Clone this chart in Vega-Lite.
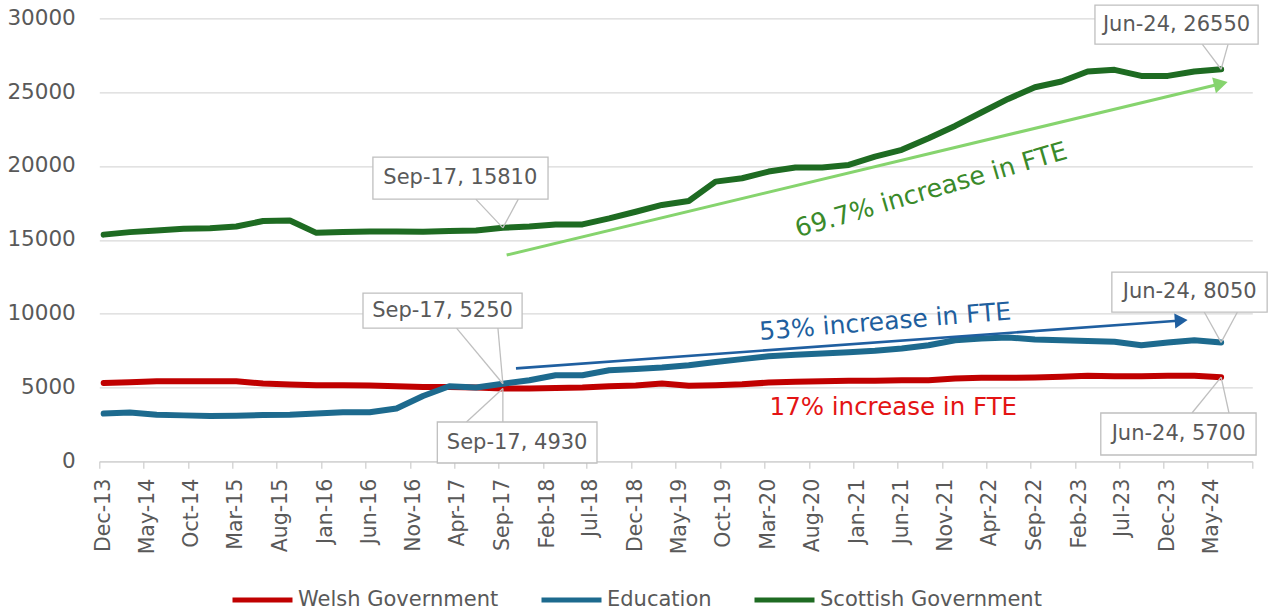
{
  "$schema": "https://vega.github.io/schema/vega-lite/v6.json",
  "width": 1153,
  "height": 443,
  "autosize": {"type": "none"},
  "padding": {"left": 99.3, "top": 18.3, "right": 16.7, "bottom": 151.7},
  "background": "white",
  "config": {
    "view": {"stroke": null},
    "font": "DejaVu Sans",
    "axis": {"labelFont": "DejaVu Sans", "labelColor": "#595959", "title": null}
  },
  "datasets": {
    "main": [
      {"date": "2013/12/16", "Welsh Government": 5310, "Education": 3230, "Scottish Government": 15350},
      {"date": "2014/03/16", "Welsh Government": 5350, "Education": 3300, "Scottish Government": 15520},
      {"date": "2014/06/16", "Welsh Government": 5420, "Education": 3160, "Scottish Government": 15630},
      {"date": "2014/09/16", "Welsh Government": 5420, "Education": 3110, "Scottish Government": 15750},
      {"date": "2014/12/16", "Welsh Government": 5420, "Education": 3070, "Scottish Government": 15790},
      {"date": "2015/03/16", "Welsh Government": 5420, "Education": 3090, "Scottish Government": 15900},
      {"date": "2015/06/16", "Welsh Government": 5270, "Education": 3140, "Scottish Government": 16270},
      {"date": "2015/09/16", "Welsh Government": 5200, "Education": 3160, "Scottish Government": 16310},
      {"date": "2015/12/16", "Welsh Government": 5150, "Education": 3230, "Scottish Government": 15470},
      {"date": "2016/03/16", "Welsh Government": 5150, "Education": 3320, "Scottish Government": 15520},
      {"date": "2016/06/16", "Welsh Government": 5130, "Education": 3320, "Scottish Government": 15560},
      {"date": "2016/09/16", "Welsh Government": 5080, "Education": 3570, "Scottish Government": 15560},
      {"date": "2016/12/16", "Welsh Government": 5040, "Education": 4420, "Scottish Government": 15540},
      {"date": "2017/03/16", "Welsh Government": 5040, "Education": 5080, "Scottish Government": 15600},
      {"date": "2017/06/16", "Welsh Government": 5000, "Education": 5000, "Scottish Government": 15630},
      {"date": "2017/09/16", "Welsh Government": 4930, "Education": 5250, "Scottish Government": 15810},
      {"date": "2017/12/16", "Welsh Government": 4930, "Education": 5490, "Scottish Government": 15900},
      {"date": "2018/03/16", "Welsh Government": 4970, "Education": 5830, "Scottish Government": 16040},
      {"date": "2018/06/16", "Welsh Government": 4990, "Education": 5830, "Scottish Government": 16040},
      {"date": "2018/09/16", "Welsh Government": 5080, "Education": 6170, "Scottish Government": 16450},
      {"date": "2018/12/16", "Welsh Government": 5140, "Education": 6250, "Scottish Government": 16900},
      {"date": "2019/03/16", "Welsh Government": 5270, "Education": 6350, "Scottish Government": 17360},
      {"date": "2019/06/16", "Welsh Government": 5110, "Education": 6510, "Scottish Government": 17630},
      {"date": "2019/09/16", "Welsh Government": 5150, "Education": 6730, "Scottish Government": 18940},
      {"date": "2019/12/16", "Welsh Government": 5220, "Education": 6920, "Scottish Government": 19170},
      {"date": "2020/03/16", "Welsh Government": 5330, "Education": 7120, "Scottish Government": 19620},
      {"date": "2020/06/16", "Welsh Government": 5380, "Education": 7210, "Scottish Government": 19890},
      {"date": "2020/09/16", "Welsh Government": 5420, "Education": 7300, "Scottish Government": 19890},
      {"date": "2020/12/16", "Welsh Government": 5450, "Education": 7390, "Scottish Government": 20070},
      {"date": "2021/03/16", "Welsh Government": 5450, "Education": 7480, "Scottish Government": 20630},
      {"date": "2021/06/16", "Welsh Government": 5490, "Education": 7640, "Scottish Government": 21090},
      {"date": "2021/09/16", "Welsh Government": 5490, "Education": 7860, "Scottish Government": 21880},
      {"date": "2021/12/16", "Welsh Government": 5600, "Education": 8200, "Scottish Government": 22710},
      {"date": "2022/03/16", "Welsh Government": 5650, "Education": 8320, "Scottish Government": 23620},
      {"date": "2022/06/16", "Welsh Government": 5650, "Education": 8390, "Scottish Government": 24540},
      {"date": "2022/09/16", "Welsh Government": 5670, "Education": 8250, "Scottish Government": 25330},
      {"date": "2022/12/16", "Welsh Government": 5720, "Education": 8200, "Scottish Government": 25720},
      {"date": "2023/03/16", "Welsh Government": 5790, "Education": 8140, "Scottish Government": 26400},
      {"date": "2023/06/16", "Welsh Government": 5760, "Education": 8090, "Scottish Government": 26510},
      {"date": "2023/09/16", "Welsh Government": 5760, "Education": 7860, "Scottish Government": 26100},
      {"date": "2023/12/16", "Welsh Government": 5790, "Education": 8050, "Scottish Government": 26100},
      {"date": "2024/03/16", "Welsh Government": 5790, "Education": 8200, "Scottish Government": 26400},
      {"date": "2024/06/16", "Welsh Government": 5700, "Education": 8050, "Scottish Government": 26550}
    ],
    "callouts": [
      {"label": "Sep-17, 15810", "x1": "2016/06/27", "x2": "2018/02/18", "y1": 20601, "y2": 17758, "tx": "2017/04/23", "ty": 19180},
      {"label": "Sep-17, 5250", "x1": "2016/05/24", "x2": "2017/11/21", "y1": 11394, "y2": 9024, "tx": "2017/02/21", "ty": 10209},
      {"label": "Sep-17, 4930", "x1": "2017/02/03", "x2": "2018/08/05", "y1": 2661, "y2": -115, "tx": "2017/11/04", "ty": 1273},
      {"label": "Jun-24, 26550", "x1": "2023/04/10", "x2": "2024/10/21", "y1": 30892, "y2": 28251, "tx": "2024/01/15", "ty": 29571},
      {"label": "Jun-24, 8050", "x1": "2023/06/07", "x2": "2024/11/21", "y1": 12816, "y2": 10108, "tx": "2024/02/29", "ty": 11462},
      {"label": "Jun-24, 5700", "x1": "2023/04/30", "x2": "2024/10/14", "y1": 3270, "y2": 427, "tx": "2024/01/22", "ty": 1848}
    ],
    "leaders": [
      {"x": "2017/06/15", "y": 17758, "x2": "2017/09/16", "y2": 15810},
      {"x": "2017/11/08", "y": 17758, "x2": "2017/09/16", "y2": 15810},
      {"x": "2017/04/10", "y": 9024, "x2": "2017/09/16", "y2": 5250},
      {"x": "2017/08/30", "y": 9024, "x2": "2017/09/16", "y2": 5250},
      {"x": "2017/05/14", "y": 2661, "x2": "2017/09/16", "y2": 4930},
      {"x": "2017/09/16", "y": 2661, "x2": "2017/09/16", "y2": 4930},
      {"x": "2024/04/12", "y": 28251, "x2": "2024/06/16", "y2": 26550},
      {"x": "2024/07/10", "y": 28251, "x2": "2024/06/16", "y2": 26550},
      {"x": "2024/04/19", "y": 10108, "x2": "2024/06/16", "y2": 8050},
      {"x": "2024/08/11", "y": 10108, "x2": "2024/06/16", "y2": 8050},
      {"x": "2024/03/08", "y": 3270, "x2": "2024/06/16", "y2": 5700},
      {"x": "2024/07/13", "y": 3270, "x2": "2024/06/16", "y2": 5700}
    ]
  },
  "layer": [
    {
      "data": {"name": "main"},
      "transform": [{"fold": ["Welsh Government", "Education", "Scottish Government"], "as": ["series", "fte"]}],
      "mark": {"type": "line", "strokeWidth": 6, "strokeJoin": "round", "strokeCap": "round"},
      "encoding": {
        "x": {
          "field": "date", "type": "temporal", "title": null,
          "scale": {"domain": [{"year": 2013, "month": 12, "date": 1}, {"year": 2024, "month": 10, "date": 1}]},
          "axis": {
            "values": [
              {"year": 2013, "month": 12, "date": 1}, {"year": 2014, "month": 5, "date": 1}, {"year": 2014, "month": 10, "date": 1},
              {"year": 2015, "month": 3, "date": 1}, {"year": 2015, "month": 8, "date": 1}, {"year": 2016, "month": 1, "date": 1},
              {"year": 2016, "month": 6, "date": 1}, {"year": 2016, "month": 11, "date": 1}, {"year": 2017, "month": 4, "date": 1},
              {"year": 2017, "month": 9, "date": 1}, {"year": 2018, "month": 2, "date": 1}, {"year": 2018, "month": 7, "date": 1},
              {"year": 2018, "month": 12, "date": 1}, {"year": 2019, "month": 5, "date": 1}, {"year": 2019, "month": 10, "date": 1},
              {"year": 2020, "month": 3, "date": 1}, {"year": 2020, "month": 8, "date": 1}, {"year": 2021, "month": 1, "date": 1},
              {"year": 2021, "month": 6, "date": 1}, {"year": 2021, "month": 11, "date": 1}, {"year": 2022, "month": 4, "date": 1},
              {"year": 2022, "month": 9, "date": 1}, {"year": 2023, "month": 2, "date": 1}, {"year": 2023, "month": 7, "date": 1},
              {"year": 2023, "month": 12, "date": 1}, {"year": 2024, "month": 5, "date": 1}, {"year": 2024, "month": 10, "date": 1}
            ],
            "labelExpr": "datum.value >= datetime(2024, 8, 1) ? '' : timeFormat(datum.value, '%b-%y')",
            "labelAngle": -90,
            "labelFontSize": 20.5,
            "labelPadding": 10,
            "labelOffset": 4,
            "tickSize": 7,
            "tickColor": "#D0D0D0",
            "domainColor": "#D0D0D0",
            "domainWidth": 1.3,
            "tickWidth": 1.3,
            "grid": false,
            "labelOverlap": false,
            "labelFlush": false
          }
        },
        "y": {
          "field": "fte", "type": "quantitative", "title": null,
          "scale": {"domain": [0, 30000], "nice": false},
          "axis": {
            "values": [0, 5000, 10000, 15000, 20000, 25000, 30000],
            "format": "d",
            "labelFontSize": 21.5,
            "labelPadding": 24,
            "domain": false,
            "ticks": false,
            "grid": true,
            "gridColor": "#D9D9D9",
            "gridWidth": 1.3
          }
        },
        "color": {
          "field": "series", "type": "nominal",
          "scale": {"domain": ["Welsh Government", "Education", "Scottish Government"], "range": ["#C00000", "#1D6A8E", "#1E6B22"]},
          "legend": {
            "orient": "none", "legendX": 130.7, "legendY": 549, "direction": "horizontal", "columns": 3,
            "title": null, "symbolType": "stroke", "symbolStrokeWidth": 5, "symbolSize": 3600,
            "labelFontSize": 21, "labelColor": "#595959", "labelFont": "DejaVu Sans", "labelOffset": 3, "columnPadding": 32,
            "labelLimit": 400
          }
        }
      }
    },
    {
      "data": {"values": [{"x": "2017/09/29", "y": 13966, "x2": "2024/06/15", "y2": 25570}]},
      "mark": {"type": "rule", "color": "#86D46E", "strokeWidth": 3},
      "encoding": {
        "x": {"field": "x", "type": "temporal", "title": null},
        "y": {"field": "y", "type": "quantitative", "title": null},
        "x2": {"field": "x2"},
        "y2": {"field": "y2"}
      }
    },
    {
      "data": {"values": [{"x": "2024/06/15", "y": 25570}]},
      "mark": {"type": "point", "shape": "triangle-right", "filled": true, "color": "#86D46E", "opacity": 1, "size": 260, "angle": 346.5},
      "encoding": {
        "x": {"field": "x", "type": "temporal", "title": null},
        "y": {"field": "y", "type": "quantitative", "title": null}
      }
    },
    {
      "data": {"values": [{"x": "2017/10/31", "y": 6296, "x2": "2024/01/31", "y2": 9532}]},
      "mark": {"type": "rule", "color": "#1F5FA0", "strokeWidth": 2.6},
      "encoding": {
        "x": {"field": "x", "type": "temporal", "title": null},
        "y": {"field": "y", "type": "quantitative", "title": null},
        "x2": {"field": "x2"},
        "y2": {"field": "y2"}
      }
    },
    {
      "data": {"values": [{"x": "2024/01/31", "y": 9532}]},
      "mark": {"type": "point", "shape": "triangle-right", "filled": true, "color": "#1F5FA0", "opacity": 1, "size": 220, "angle": 355.9},
      "encoding": {
        "x": {"field": "x", "type": "temporal", "title": null},
        "y": {"field": "y", "type": "quantitative", "title": null}
      }
    },
    {
      "data": {"name": "leaders"},
      "mark": {"type": "rule", "color": "#BFBFBF", "strokeWidth": 1.3},
      "encoding": {
        "x": {"field": "x", "type": "temporal", "title": null},
        "y": {"field": "y", "type": "quantitative", "title": null},
        "x2": {"field": "x2"},
        "y2": {"field": "y2"}
      }
    },
    {
      "data": {"name": "callouts"},
      "mark": {"type": "rect", "fill": "white", "stroke": "#BFBFBF", "strokeWidth": 1.3},
      "encoding": {
        "x": {"field": "x1", "type": "temporal", "title": null},
        "x2": {"field": "x2"},
        "y": {"field": "y1", "type": "quantitative", "title": null},
        "y2": {"field": "y2"}
      }
    },
    {
      "data": {"name": "callouts"},
      "mark": {"type": "text", "fontSize": 21, "color": "#595959", "font": "DejaVu Sans", "align": "center", "baseline": "middle"},
      "encoding": {
        "x": {"field": "tx", "type": "temporal", "title": null},
        "y": {"field": "ty", "type": "quantitative", "title": null},
        "text": {"field": "label"}
      }
    },
    {
      "data": {"values": [{"x": "2021/09/25", "y": 18367, "note": "69.7% increase in FTE"}]},
      "mark": {"type": "text", "fontSize": 25.5, "color": "#3A8A2A", "font": "DejaVu Sans", "align": "center", "baseline": "middle", "angle": 343.7},
      "encoding": {
        "x": {"field": "x", "type": "temporal", "title": null},
        "y": {"field": "y", "type": "quantitative", "title": null},
        "text": {"field": "note"}
      }
    },
    {
      "data": {"values": [{"x": "2021/04/20", "y": 9451, "note": "53% increase in FTE"}]},
      "mark": {"type": "text", "fontSize": 25, "color": "#1F5F9E", "font": "DejaVu Sans", "align": "center", "baseline": "middle", "angle": 355.3},
      "encoding": {
        "x": {"field": "x", "type": "temporal", "title": null},
        "y": {"field": "y", "type": "quantitative", "title": null},
        "text": {"field": "note"}
      }
    },
    {
      "data": {"values": [{"x": "2021/05/18", "y": 3588, "note": "17% increase in FTE"}]},
      "mark": {"type": "text", "fontSize": 24.5, "color": "#E41414", "font": "DejaVu Sans", "align": "center", "baseline": "middle"},
      "encoding": {
        "x": {"field": "x", "type": "temporal", "title": null},
        "y": {"field": "y", "type": "quantitative", "title": null},
        "text": {"field": "note"}
      }
    }
  ]
}
